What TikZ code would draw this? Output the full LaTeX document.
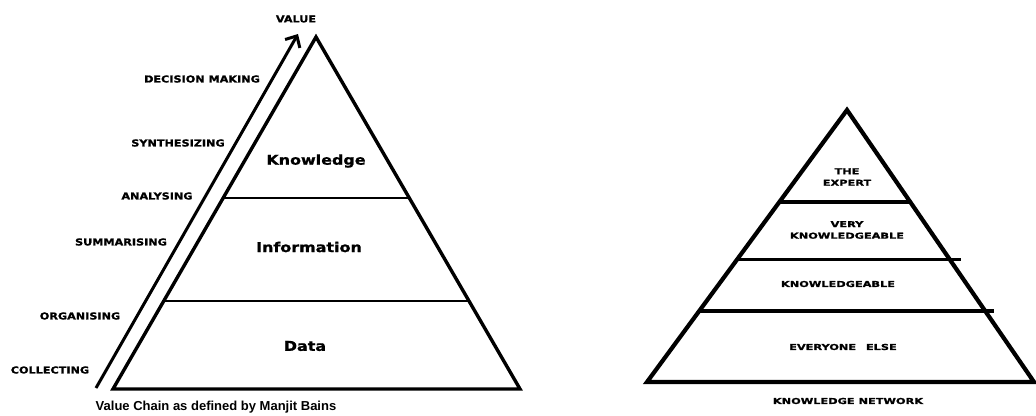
\documentclass[tikz,border=0pt]{standalone}
\usepackage{fontspec}
\setmainfont{DejaVu Sans}
\newfontfamily\stepfont[FakeStretch=1.18,FakeBold=1.2]{DejaVu Sans}
\newfontfamily\tierfont[FakeStretch=1.38,FakeBold=1.2]{DejaVu Sans}
\newfontfamily\capfont{Liberation Sans}
\usetikzlibrary{arrows.meta,positioning,calc}
\tikzset{%
  outline/.style={line width=3.4pt, line join=miter},
  divider/.style={line width=2.4pt},
  arrow/.style={-{Straight Barb[length=9pt,width=17pt]}, line width=3pt}%
}

\begin{document}
\begin{tikzpicture}[
    x=1pt, y=-1pt,
    steplabel/.style={
        font=\stepfont\bfseries\fontsize{9.5}{11}\selectfont,
        inner sep=0pt
    },
    layerlabel/.style={
        font=\stepfont\bfseries\fontsize{13.5}{15}\selectfont,
        inner sep=0pt
    },
    tierlabel/.style={
        font=\tierfont\bfseries\fontsize{8.2}{11.5}\selectfont,
        align=center,
        inner sep=0pt
    },
    caption/.style={
        font=\capfont\bfseries\fontsize{13}{15}\selectfont,
        inner sep=0pt
    }
]
\useasboundingbox (0,0) rectangle (1036,415);

% Value chain pyramid
\coordinate (chaintop) at (316,37);
\coordinate (chainleft) at (113,389);
\coordinate (chainright) at (520,389);
\draw[outline] (chaintop) -- (chainleft) -- (chainright) -- cycle;
\draw[divider] ($(chaintop)!0.457!(chainleft)$) -- ($(chaintop)!0.457!(chainright)$);
\draw[divider] ($(chaintop)!0.75!(chainleft)$) -- ($(chaintop)!0.75!(chainright)$);

\node[layerlabel] (knowledge) at (316,161) {Knowledge};
\node[layerlabel] (information) at (309,247) {Information};
\node[layerlabel] (data) at (305,346) {Data};

% Value arrow and steps
\coordinate (valuefoot) at (96,388);
\coordinate (valuetip) at (298,34);
\draw[arrow] (valuefoot) -- (valuetip);

\node[steplabel] (value) at (296,19) {VALUE};
\node[steplabel] (decision) at (202,79) {DECISION MAKING};
\node[steplabel] (synth) at (178,143) {SYNTHESIZING};
\node[steplabel] (analyse) at (157,196) {ANALYSING};
\node[steplabel] (summ) at (121,242) {SUMMARISING};
\node[steplabel] (organise) at (80,316) {ORGANISING};
\node[steplabel] (collect) at (50,370) {COLLECTING};

\node[caption] (chaincap) at (216,407) {Value Chain as defined by Manjit Bains};

% Knowledge network pyramid
\coordinate (nettop) at (847,110);
\coordinate (netleft) at (647,382);
\coordinate (netright) at (1034,382);
\draw[outline, line width=4.2pt] (nettop) -- (netleft) -- (netright) -- cycle;
\draw[divider, line width=3.2pt] ($(nettop)!0.338!(netleft)$) -- ($(nettop)!0.338!(netright)$);
\draw[divider, line width=3.2pt] ($(nettop)!0.551!(netleft)$) -- ($(nettop)!0.551!(netright)+(11,0)$);
\draw[divider, line width=3.2pt] ($(nettop)!0.739!(netleft)$) -- ($(nettop)!0.739!(netright)+(9,0)$);

\node[tierlabel] (expert) at (847,177) {THE\\EXPERT};
\node[tierlabel] (very) at (847,230) {VERY\\KNOWLEDGEABLE};
\node[tierlabel] (knowable) at (838,284) {KNOWLEDGEABLE};
\node[tierlabel] (everyone) at (843,347) {EVERYONE\hspace{1.2em}ELSE};

\node[tierlabel] (netcap) at (848,401) {KNOWLEDGE NETWORK};

\end{tikzpicture}
\end{document}
